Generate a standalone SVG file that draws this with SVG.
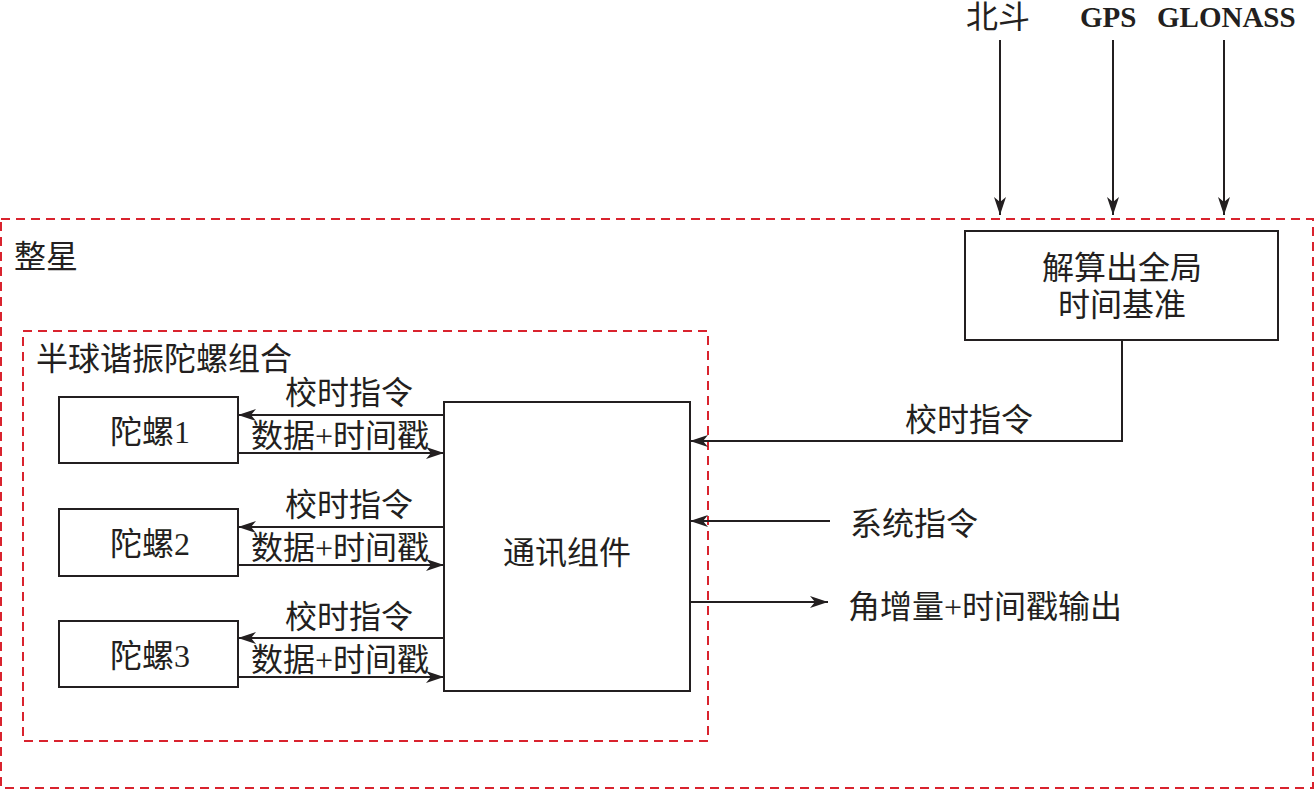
<svg xmlns="http://www.w3.org/2000/svg" width="1315" height="790" viewBox="0 0 1315 790">
<defs>
<style>
.box{fill:#fff;stroke:#231f20;stroke-width:2}
.dash{fill:none;stroke:#d9232e;stroke-width:2;stroke-dasharray:9 6}
.ln{fill:none;stroke:#231f20;stroke-width:2}
.t{font-family:"Liberation Serif","Noto Sans CJK SC",serif;font-size:32px;fill:#231f20}
.s{font-size:29px}
.m{text-anchor:middle}
.b{font-weight:bold}
</style>
<marker id="ah" viewBox="0 0 18 12" refX="18" refY="6" markerWidth="18" markerHeight="12" markerUnits="userSpaceOnUse" orient="auto">
<path d="M0,0 L18,6 L0,12 L5,6 Z" fill="#231f20"/>
</marker>
</defs>
<rect width="1315" height="790" fill="#fff"/>
<g id="satellite">
<rect class="dash" x="1" y="219" width="1312" height="569"/>
<text class="t" x="14" y="268">整星</text>
</g>
<g id="gyro-assembly">
<rect class="dash" x="23" y="331" width="685" height="410"/>
<text class="t" x="36" y="370">半球谐振陀螺组合</text>
</g>
<g id="solver">
<rect class="box" x="965" y="231" width="313" height="109"/>
<text class="t m" x="1122" y="279">解算出全局</text>
<text class="t m" x="1122" y="316">时间基准</text>
</g>
<g id="gyro1">
<rect class="box" x="59" y="397" width="179" height="66"/>
<text class="t m" x="150" y="443">陀螺1</text>
</g>
<g id="gyro2">
<rect class="box" x="59" y="509" width="179" height="67"/>
<text class="t m" x="150" y="555">陀螺2</text>
</g>
<g id="gyro3">
<rect class="box" x="59" y="621" width="179" height="66"/>
<text class="t m" x="150" y="667">陀螺3</text>
</g>
<g id="comm">
<rect class="box" x="444" y="402" width="246" height="289"/>
<text class="t m" x="567" y="564">通讯组件</text>
</g>
<g id="sources">
<text class="t" x="966" y="28">北斗</text>
<text class="t s b" x="1080" y="27">GPS</text>
<text class="t s b" x="1157" y="27">GLONASS</text>
</g>
<g id="connectors">
<line class="ln" x1="1000" y1="40" x2="1000" y2="215" marker-end="url(#ah)"/>
<line class="ln" x1="1113" y1="40" x2="1113" y2="215" marker-end="url(#ah)"/>
<line class="ln" x1="1224" y1="40" x2="1224" y2="215" marker-end="url(#ah)"/>
<polyline class="ln" points="1122,340 1122,441 690,441" marker-end="url(#ah)"/>
<text class="t m" x="969" y="431">校时指令</text>
<line class="ln" x1="830" y1="521" x2="690" y2="521" marker-end="url(#ah)"/>
<text class="t" x="850" y="535">系统指令</text>
<line class="ln" x1="690" y1="602" x2="828" y2="602" marker-end="url(#ah)"/>
<text class="t" x="848" y="618">角增量+时间戳输出</text>
<line class="ln" x1="444" y1="415" x2="238" y2="415" marker-end="url(#ah)"/>
<line class="ln" x1="238" y1="453" x2="444" y2="453" marker-end="url(#ah)"/>
<text class="t m" x="349" y="404">校时指令</text>
<text class="t m" x="340" y="447">数据+时间戳</text>
<line class="ln" x1="444" y1="527" x2="238" y2="527" marker-end="url(#ah)"/>
<line class="ln" x1="238" y1="565" x2="444" y2="565" marker-end="url(#ah)"/>
<text class="t m" x="349" y="516">校时指令</text>
<text class="t m" x="340" y="559">数据+时间戳</text>
<line class="ln" x1="444" y1="638" x2="238" y2="638" marker-end="url(#ah)"/>
<line class="ln" x1="238" y1="677" x2="444" y2="677" marker-end="url(#ah)"/>
<text class="t m" x="349" y="628">校时指令</text>
<text class="t m" x="340" y="671">数据+时间戳</text>
</g>
</svg>
